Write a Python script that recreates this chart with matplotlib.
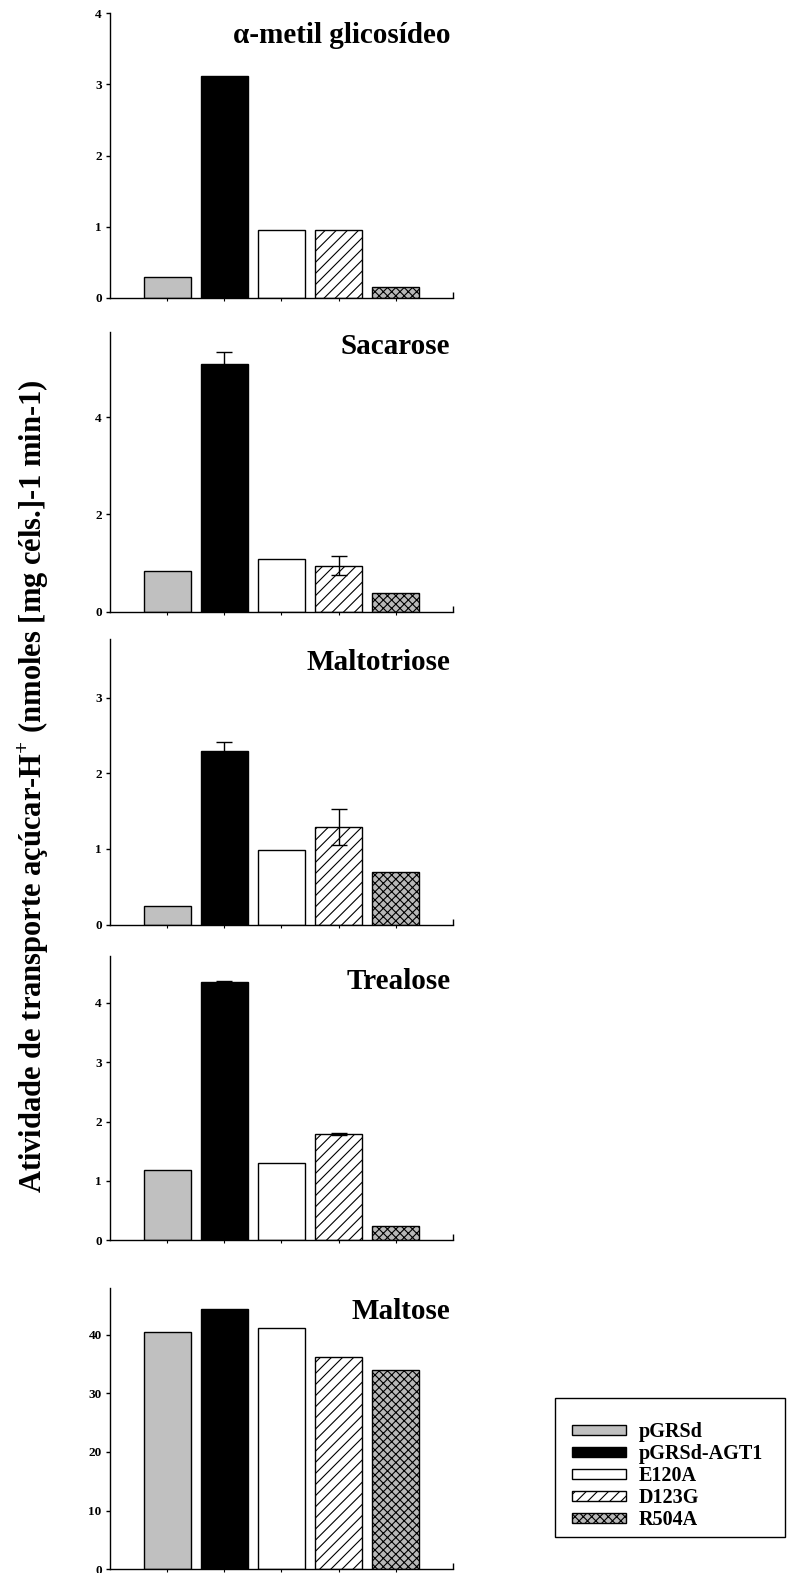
import matplotlib
matplotlib.use("Agg")
import matplotlib.pyplot as plt
from matplotlib.patches import Rectangle
import numpy as np

plt.rcParams['font.family'] = ['Liberation Serif', 'DejaVu Serif']
plt.rcParams['mathtext.fontset'] = 'custom'
plt.rcParams['mathtext.rm'] = 'Liberation Serif:bold'
plt.rcParams['mathtext.bf'] = 'Liberation Serif:bold'
plt.rcParams['hatch.linewidth'] = 0.8

# ---- data ----
strains = ["pGRSd", "pGRSd-AGT1", "E120A", "D123G", "R504A"]
sugars = ["α-metil glicosídeo", "Sacarose", "Maltotriose", "Trealose", "Maltose"]

metil_vals = [0.29, 3.11, 0.96, 0.96, 0.16]
metil_err = [0, 0, 0, 0, 0]
sacarose_vals = [0.83, 5.09, 1.08, 0.95, 0.39]
sacarose_err = [0, 0.26, 0, 0.19, 0]
maltotriose_vals = [0.25, 2.29, 0.99, 1.29, 0.70]
maltotriose_err = [0, 0.12, 0, 0.24, 0]
trealose_vals = [1.19, 4.35, 1.30, 1.79, 0.24]
trealose_err = [0, 0.02, 0, 0.02, 0]
maltose_vals = [40.4, 44.3, 41.2, 36.2, 33.9]
maltose_err = [0, 0, 0, 0, 0]

values = [metil_vals, sacarose_vals, maltotriose_vals, trealose_vals, maltose_vals]
errors = [metil_err, sacarose_err, maltotriose_err, trealose_err, maltose_err]
ylims = [4.0, 5.76, 3.77, 4.79, 48.0]
yticks = [[0, 1, 2, 3, 4], [0, 2, 4], [0, 1, 2, 3], [0, 1, 2, 3, 4], [0, 10, 20, 30, 40]]

ylabel = "Atividade de transporte açúcar-H$^{+}$ (nmoles [mg céls.]-1 min-1)"

# ---- styles ----
facecolors = ["#c0c0c0", "black", "white", "white", "#b8b8b8"]
hatches = [None, None, None, "///", "xxxx"]

W, H = 789, 1573
fig = plt.figure(figsize=(W / 100, H / 100), dpi=100)

# axes boxes in pixel coords: left, right, top, bottom
boxes = [
    (110, 453, 13, 298),
    (110, 453, 331.7, 611.7),
    (110, 453, 639.3, 924.7),
    (110, 453, 956, 1240.3),
    (110, 453, 1287.7, 1569.3),
]
title_y = [0.92, 0.946, 0.918, 0.91, 0.917]

x = np.arange(1, len(strains) + 1)
bars_for_legend = None
for i, (l, r, t, b) in enumerate(boxes):
    ax = fig.add_axes([l / W, 1 - b / H, (r - l) / W, (b - t) / H])
    bars = ax.bar(x, values[i], width=0.82, color=facecolors, edgecolor="black",
                  linewidth=1.0, zorder=2)
    for bar, h in zip(bars, hatches):
        if h:
            bar.set_hatch(h)
    errs = np.array(errors[i])
    mask = errs > 0
    if mask.any():
        ax.errorbar(x[mask], np.array(values[i])[mask], yerr=errs[mask], fmt="none",
                    ecolor="black", elinewidth=1.0, capsize=6, capthick=1.0, zorder=3)
    if bars_for_legend is None:
        bars_for_legend = bars
    ax.set_xlim(0, 6)
    ax.set_ylim(0, ylims[i])
    ax.set_yticks(yticks[i])
    ax.set_yticklabels([str(v) for v in yticks[i]], fontsize=9.5, fontweight="bold")
    ax.set_xticks(x)
    ax.set_xticklabels([])
    ax.set_xticks([6], minor=True)
    ax.tick_params(axis="x", which="major", direction="out", length=2, width=0.8)
    ax.tick_params(axis="x", which="minor", direction="in", length=4, width=1)
    ax.tick_params(axis="y", direction="out", length=3, width=1, pad=3)
    for s in ["top", "right"]:
        ax.spines[s].set_visible(False)
    for s in ["left", "bottom"]:
        ax.spines[s].set_linewidth(1.0)
    ax.text(0.992, title_y[i], sugars[i], transform=ax.transAxes, ha="right", va="center",
            fontsize=21, fontweight="bold")

fig.text(33 / W, 1 - 786 / H, ylabel, rotation=90, ha="center", va="center",
         fontsize=22, fontweight="bold")

# legend frame drawn as a figure rectangle
fig.patches.append(Rectangle((555 / W, 1 - 1537 / H), (785 - 555) / W, (1537 - 1398) / H,
                             transform=fig.transFigure, facecolor="white",
                             edgecolor="black", linewidth=1.0, zorder=0))

leg = fig.legend(bars_for_legend, strains, loc="upper left",
                 bbox_to_anchor=(572 / W, 1 - 1422 / H), bbox_transform=fig.transFigure,
                 borderaxespad=0, borderpad=0, frameon=False,
                 handlelength=2.7, handleheight=0.4, handletextpad=0.6,
                 labelspacing=0.1,
                 prop={"family": "Liberation Serif", "weight": "bold", "size": 14.5})

fig.savefig("out.png", dpi=100)
